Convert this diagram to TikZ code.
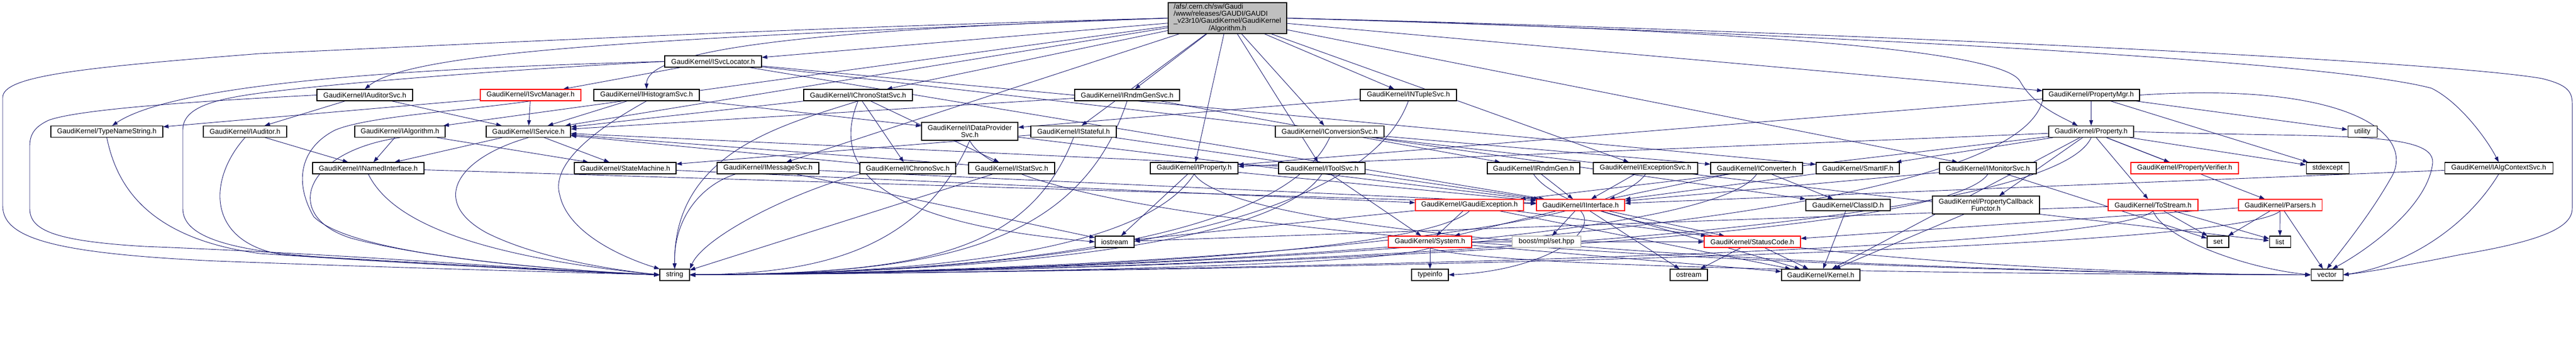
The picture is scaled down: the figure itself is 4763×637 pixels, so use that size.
\documentclass[tikz,border=0pt]{standalone}
\usepackage{fontspec}
\setmainfont{Liberation Sans}
\usetikzlibrary{arrows.meta}
\definecolor{eblue}{HTML}{191970}
\definecolor{mgray}{HTML}{BFBFBF}
\pgfdeclarelayer{bg}
\pgfsetlayers{bg,main}
\tikzset{
  box/.style={draw=black, line width=1.1pt, fill=white, inner sep=0pt, minimum height=21pt, font=\fontsize{13}{12.5}\selectfont, align=center},
  rbox/.style={box, draw=red},
  gbox/.style={box, draw=mgray},
  dep/.style={draw=eblue, line width=0.9pt, -{Triangle[length=10pt,width=7pt]}},
}
\begin{document}
\begin{tikzpicture}[x=1pt,y=1pt]
\useasboundingbox (0,0) rectangle (4763,-637);
% ---------- nodes ----------
\node[box, minimum width=219pt, minimum height=57pt, fill=mgray] (nmain) at (2269.5,-33.5) {\begin{tabular}{@{}l@{}}/afs/.cern.ch/sw/Gaudi\\/www/releases/GAUDI/GAUDI\\\_v23r10/GaudiKernel/GaudiKernel\\\multicolumn{1}{@{}c@{}}{/Algorithm.h}\end{tabular}};
\node[box, minimum width=179pt] (svcloc) at (1318.5,-113.5) {GaudiKernel/ISvcLocator.h};
\node[box, minimum width=177pt] (auditorsvc) at (674.5,-175.5) {GaudiKernel/IAuditorSvc.h};
\node[rbox, minimum width=186pt] (svcmgr) at (981,-175.5) {GaudiKernel/ISvcManager.h};
\node[box, minimum width=195pt] (histsvc) at (1195.5,-175.5) {GaudiKernel/IHistogramSvc.h};
\node[box, minimum width=201pt] (chronostat) at (1586.5,-175.5) {GaudiKernel/IChronoStatSvc.h};
\node[box, minimum width=194pt] (rndmgensvc) at (2084,-175.5) {GaudiKernel/IRndmGenSvc.h};
\node[box, minimum width=178pt] (ntuplesvc) at (2604,-175.5) {GaudiKernel/INTupleSvc.h};
\node[box, minimum width=179pt] (propmgr) at (3866.5,-175.5) {GaudiKernel/PropertyMgr.h};
\node[box, minimum width=207pt] (typename) at (197.5,-243) {GaudiKernel/TypeNameString.h};
\node[box, minimum width=154pt] (iauditor) at (453,-243) {GaudiKernel/IAuditor.h};
\node[box, minimum width=167pt] (ialgorithm) at (739.5,-243) {GaudiKernel/IAlgorithm.h};
\node[box, minimum width=156pt] (iservice) at (977,-243) {GaudiKernel/IService.h};
\node[box, minimum width=178pt, minimum height=33pt] (idataprov) at (1793,-242.5) {GaudiKernel/IDataProvider\\Svc.h};
\node[box, minimum width=158pt] (istateful) at (1985,-243) {GaudiKernel/IStateful.h};
\node[box, minimum width=201pt] (iconvsvc) at (2458.5,-243) {GaudiKernel/IConversionSvc.h};
\node[box, minimum width=157pt] (property) at (3866.5,-243) {GaudiKernel/Property.h};
\node[box, minimum width=54pt] (utility) at (4368,-243) {utility};
\node[box, minimum width=206pt] (inamed) at (681,-310.5) {GaudiKernel/INamedInterface.h};
\node[box, minimum width=188pt] (statemachine) at (1156,-310.5) {GaudiKernel/StateMachine.h};
\node[box, minimum width=188pt] (imsgsvc) at (1420,-310.5) {GaudiKernel/IMessageSvc.h};
\node[box, minimum width=177pt] (ichronosvc) at (1678.5,-310.5) {GaudiKernel/IChronoSvc.h};
\node[box, minimum width=159pt] (istatsvc) at (1870.5,-310.5) {GaudiKernel/IStatSvc.h};
\node[box, minimum width=162pt] (iproperty) at (2208,-310.5) {GaudiKernel/IProperty.h};
\node[box, minimum width=160pt] (itoolsvc) at (2444,-310.5) {GaudiKernel/IToolSvc.h};
\node[box, minimum width=171pt] (irndmgen) at (2835.5,-310.5) {GaudiKernel/IRndmGen.h};
\node[box, minimum width=193pt] (iexcsvc) at (3042.5,-310.5) {GaudiKernel/IExceptionSvc.h};
\node[box, minimum width=170pt] (iconverter) at (3248,-310.5) {GaudiKernel/IConverter.h};
\node[box, minimum width=154pt] (smartif) at (3435,-310.5) {GaudiKernel/SmartIF.h};
\node[box, minimum width=179pt] (imonsvc) at (3675.5,-310.5) {GaudiKernel/IMonitorSvc.h};
\node[rbox, minimum width=199pt] (propverif) at (4039.5,-310.5) {GaudiKernel/PropertyVerifier.h};
\node[box, minimum width=79pt] (stdexcept) at (4303.5,-310.5) {stdexcept};
\node[box, minimum width=200pt] (ialgctx) at (4620,-310.5) {GaudiKernel/IAlgContextSvc.h};
\node[rbox, minimum width=200pt] (gaudiexc) at (2717,-378.5) {GaudiKernel/GaudiException.h};
\node[rbox, minimum width=163pt] (iinterface) at (2922.5,-378.5) {GaudiKernel/IInterface.h};
\node[box, minimum width=156pt] (classid) at (3417,-378.5) {GaudiKernel/ClassID.h};
\node[box, minimum width=198pt, minimum height=33pt] (propcb) at (3672,-378.5) {GaudiKernel/PropertyCallback\\Functor.h};
\node[rbox, minimum width=166pt] (tostream) at (3981,-378.5) {GaudiKernel/ToStream.h};
\node[rbox, minimum width=154pt] (parsers) at (4216,-378.5) {GaudiKernel/Parsers.h};
\node[box, minimum width=72pt] (iostream) at (2061,-446.5) {iostream};
\node[rbox, minimum width=154pt] (nsystem) at (2644,-446.5) {GaudiKernel/System.h};
\node[gbox, minimum width=127pt] (boost) at (2859.5,-446.5) {boost/mpl/set.hpp};
\node[rbox, minimum width=178pt] (statuscode) at (3240,-446.5) {GaudiKernel/StatusCode.h};
\node[box, minimum width=40pt] (nset) at (4101,-446.5) {set};
\node[box, minimum width=39pt] (nlist) at (4215.5,-446.5) {list};
\node[box, minimum width=55pt] (nstring) at (1247.5,-507.5) {string};
\node[box, minimum width=68pt] (typeinfo) at (2644,-507.5) {typeinfo};
\node[box, minimum width=69pt] (ostream) at (3122.5,-507.5) {ostream};
\node[box, minimum width=145pt] (kernel) at (3366.5,-507.5) {GaudiKernel/Kernel.h};
\node[box, minimum width=59pt] (nvector) at (4302.5,-507.5) {vector};
% ---------- edges ----------
\begin{pgfonlayer}{bg}
\fill[white] (0,0) rectangle (4763,-637);
% main
\draw[dep] (nmain) -- (svcloc);
\draw[dep] (nmain.west) .. controls (1200,-70) and (760,-95) .. (auditorsvc.north);
\draw[dep] (nmain) -- (ialgorithm);
\draw[dep] (nmain) -- (iservice);
\draw[dep] (nmain.west) .. controls (1500,-55) and (1195,-90) .. (histsvc.north);
\draw[dep] (nmain) -- (chronostat);
\draw[dep] (nmain) -- (rndmgensvc);
\draw[dep] (nmain) -- (ntuplesvc);
\draw[dep] (nmain) -- (propmgr);
\draw[dep] (nmain) -- (istateful);
\draw[dep] (nmain) -- (iconvsvc);
\draw[dep] (nmain) -- (imsgsvc);
\draw[dep] (nmain) -- (iproperty);
\draw[dep] (nmain) -- (itoolsvc);
\draw[dep] (nmain) -- (iexcsvc);
\draw[dep] (nmain) -- (imonsvc);
\draw[dep] (nmain.east) .. controls (3200,-55) and (3700,-90) .. (3735,-150) .. controls (3760,-195) and (3810,-215) .. ([xshift=-25pt]property.north);
\draw[dep] (nmain.east) .. controls (3300,-60) and (4300,-110) .. (4496,-163) .. controls (4550,-190) and (4600,-260) .. (ialgctx.north);
\draw[dep] (nmain.west) .. controls (1500,-50) and (900,-80) .. (480,-99) .. controls (150,-125) and (5,-140) .. (5,-180) -- (5,-380) .. controls (5,-440) and (100,-468) .. (400,-482) .. controls (800,-497) and (1100,-504) .. (nstring.west);
\draw[dep] (nmain.east) .. controls (3300,-55) and (4500,-110) .. (4700,-145) .. controls (4740,-155) and (4756,-165) .. (4756,-190) -- (4756,-385) .. controls (4756,-420) and (4700,-445) .. (4550,-470) .. controls (4450,-490) and (4380,-502) .. (nvector.east);
% svcloc
\draw[dep] (svcloc) -- (svcmgr);
\draw[dep] (svcloc.west) .. controls (800,-125) and (330,-150) .. ([xshift=10pt]typename.north);
\draw[dep] (svcloc.west) .. controls (1000,-125) and (650,-150) .. (480,-172) .. controls (390,-184) and (338,-200) .. (338,-240) -- (338,-385) .. controls (338,-430) and (400,-462) .. (600,-475) .. controls (900,-492) and (1100,-503) .. (nstring.west);
\draw[dep] (svcloc) -- (iinterface);
\draw[dep] (svcloc) -- (smartif);
\draw[dep] (svcloc) -- (nlist);
% svcmgr
\draw[dep] (svcmgr) -- (iservice);
\draw[dep] (svcmgr) -- (typename);
\draw[dep] (svcmgr.south) .. controls (850,-205) and (680,-215) .. (620,-240) .. controls (560,-270) and (540,-330) .. (580,-400) .. controls (650,-470) and (1000,-497) .. (nstring.west);
% auditorsvc
\draw[dep] (auditorsvc) -- (iauditor);
\draw[dep] (auditorsvc) -- (iservice);
\draw[dep] (auditorsvc.west) .. controls (400,-185) and (150,-200) .. (90,-222) .. controls (62,-235) and (55,-250) .. (55,-270) -- (55,-385) .. controls (55,-425) and (100,-445) .. (267,-455) .. controls (700,-472) and (1000,-500) .. (nstring.west);
% iauditor, typename
\draw[dep] (iauditor) -- (inamed);
\draw[dep] (iauditor.south) .. controls (385,-330) and (380,-445) .. (520,-470) .. controls (800,-490) and (1100,-503) .. (nstring.west);
\draw[dep] (typename.south) .. controls (215,-340) and (270,-440) .. (480,-468) .. controls (800,-490) and (1100,-503) .. (nstring.west);
% ialgorithm
\draw[dep] (ialgorithm) -- (inamed);
\draw[dep] (ialgorithm) -- (statemachine);
\draw[dep] (ialgorithm.south) .. controls (560,-280) and (520,-400) .. (650,-440) .. controls (800,-480) and (1050,-500) .. (nstring.west);
% iservice
\draw[dep] (iservice) -- (inamed);
\draw[dep] (iservice) -- (statemachine);
\draw[dep] (iservice.south) .. controls (850,-290) and (790,-370) .. (900,-430) .. controls (1000,-480) and (1150,-500) .. (nstring.west);
% inamed, statemachine
\draw[dep] (inamed) -- (iinterface);
\draw[dep] (inamed.south) .. controls (720,-400) and (850,-470) .. (nstring.west);
\draw[dep] (statemachine) -- (gaudiexc);
% histsvc
\draw[dep] (histsvc) -- (iservice);
\draw[dep] (histsvc) -- (idataprov);
\draw[dep] (histsvc.south) .. controls (1080,-250) and (1020,-310) .. (1035,-360) .. controls (1050,-430) and (1150,-475) .. (nstring.north west);
% chronostat
\draw[dep] (chronostat) -- (ichronosvc);
\draw[dep] (chronostat) -- (istatsvc);
\draw[dep] (chronostat) -- (iservice);
\draw[dep] (chronostat.south) .. controls (1450,-230) and (1245,-280) .. (nstring.north);
\draw[dep] (chronostat.south) .. controls (1540,-300) and (1600,-410) .. (iostream.west);
% ichronosvc, istatsvc
\draw[dep] (ichronosvc) -- (iservice);
\draw[dep] (ichronosvc.south west) .. controls (1450,-360) and (1300,-440) .. (nstring.north east);
\draw[dep] (istatsvc) -- (iservice);
\draw[dep] (istatsvc) -- (nstring);
% rndmgensvc, irndmgen
\draw[dep] (rndmgensvc) -- (iservice);
\draw[dep] (rndmgensvc) -- (irndmgen);
\draw[dep] (rndmgensvc.south) .. controls (1990,-470) and (1700,-505) .. (nstring.east);
\draw[dep] (irndmgen) -- (iinterface);
\draw[dep] (irndmgen.south) .. controls (2935,-470) and (3900,-507) .. (nvector.west);
% ntuplesvc, idataprov
\draw[dep] (ntuplesvc) -- (idataprov);
\draw[dep] (ntuplesvc.south) .. controls (2500,-470) and (1700,-505) .. (nstring.east);
\draw[dep] (idataprov) -- (iinterface);
\draw[dep] (idataprov.south) .. controls (1700,-470) and (1500,-505) .. (nstring.east);
\draw[dep] (idataprov.south) .. controls (1900,-470) and (3900,-507) .. (nvector.west);
% istateful
\draw[dep] (istateful) -- (statemachine);
\draw[dep] (istateful) -- (iinterface);
\draw[dep] (istateful.south) .. controls (1900,-470) and (1700,-505) .. (nstring.east);
% iconvsvc, iconverter
\draw[dep] (iconvsvc) -- (iconverter);
\draw[dep] (iconvsvc) -- (classid);
\draw[dep] (iconvsvc.south) .. controls (2360,-470) and (1700,-505) .. (nstring.east);
\draw[dep] (iconverter) -- (iinterface);
\draw[dep] (iconverter) -- (classid);
\draw[dep] (iconverter.south) .. controls (3150,-470) and (1700,-505) .. (nstring.east);
% propmgr
\draw[dep] (propmgr) -- (property);
\draw[dep] (propmgr) -- (iproperty);
\draw[dep] (propmgr) -- (stdexcept);
\draw[dep] (propmgr) -- (utility);
\draw[dep] (propmgr.east) .. controls (4350,-150) and (4470,-250) .. (4420,-330) .. controls (4380,-400) and (4330,-460) .. (nvector.north);
\draw[dep] (propmgr.south west) .. controls (3700,-470) and (1700,-505) .. (nstring.east);
% property
\draw[dep] (property) -- (propverif);
\draw[dep] (property) -- (tostream);
\draw[dep] (property) -- (parsers);
\draw[dep] (property) -- (stdexcept);
\draw[dep] (property) -- (propcb);
\draw[dep] (property) -- (iproperty);
\draw[dep] (property) -- (kernel);
\draw[dep] (property) -- (gaudiexc);
\draw[dep] (property) -- (smartif);
\draw[dep] (property.south) .. controls (3770,-470) and (1700,-505) .. (nstring.east);
\draw[dep] (property.east) .. controls (4300,-255) and (4500,-240) .. (4498,-300) .. controls (4490,-380) and (4380,-460) .. ([xshift=10pt]nvector.north);
% imsgsvc
\draw[dep] (imsgsvc) -- (iinterface);
\draw[dep] ([xshift=-60pt]imsgsvc.south) .. controls (1300,-340) and (1245,-400) .. (nstring.north);
\draw[dep] (imsgsvc) -- (iostream);
% iproperty
\draw[dep] (iproperty) -- (iinterface);
\draw[dep] (iproperty) -- (iostream);
\draw[dep] (iproperty.south) .. controls (2110,-470) and (1700,-505) .. (nstring.east);
\draw[dep] (iproperty.south) .. controls (2310,-470) and (3900,-507) .. (nvector.west);
% itoolsvc
\draw[dep] (itoolsvc) -- (iservice);
\draw[dep] (itoolsvc) -- (nsystem);
\draw[dep] (itoolsvc.south) .. controls (2345,-470) and (1700,-505) .. (nstring.east);
% iexcsvc, smartif, imonsvc, ialgctx
\draw[dep] (iexcsvc) -- (iinterface);
\draw[dep] (iexcsvc.south) .. controls (2940,-470) and (1700,-505) .. (nstring.east);
\draw[dep] (smartif) -- (iinterface);
\draw[dep] (imonsvc) -- (iinterface);
\draw[dep] (imonsvc) -- (nset);
\draw[dep] (imonsvc.south) .. controls (3575,-470) and (1700,-505) .. (nstring.east);
\draw[dep] (ialgctx) -- (iinterface);
\draw[dep] (ialgctx.south) .. controls (4560,-420) and (4450,-490) .. (nvector.east);
% gaudiexc
\draw[dep] (gaudiexc) -- (nsystem);
\draw[dep] (gaudiexc) -- (statuscode);
\draw[dep] (gaudiexc) -- (kernel);
\draw[dep] (gaudiexc) -- (iostream);
\draw[dep] (gaudiexc.south) .. controls (2620,-480) and (1700,-505) .. (nstring.east);
% iinterface
\draw[dep] (iinterface) -- (nsystem);
\draw[dep] (iinterface) -- (statuscode);
\draw[dep] (iinterface) -- (boost);
\draw[dep] (iinterface) -- (ostream);
\draw[dep] (iinterface) -- (kernel);
\draw[dep] (iinterface.south) .. controls (2960,-430) and (2850,-500) .. (typeinfo.east);
% classid, propcb
\draw[dep] (classid) -- (kernel);
\draw[dep] (propcb) -- (kernel);
% tostream
\draw[dep] (tostream) -- (nset);
\draw[dep] (tostream) -- (nlist);
\draw[dep] (tostream.south) .. controls (4000,-440) and (4150,-495) .. (nvector.west);
\draw[dep] (tostream) -- (iostream);
\draw[dep] (tostream.south) .. controls (3880,-480) and (1700,-505) .. (nstring.east);
% parsers
\draw[dep] (parsers) -- (nset);
\draw[dep] (parsers) -- (nlist);
\draw[dep] (parsers) -- (nvector);
\draw[dep] (parsers) -- (statuscode);
\draw[dep] (parsers.south) .. controls (4115,-480) and (1700,-505) .. (nstring.east);
% system
\draw[dep] (nsystem) -- (typeinfo);
\draw[dep] (nsystem) -- (statuscode);
\draw[dep] (nsystem) -- (kernel);
\draw[dep] (nsystem.south) .. controls (2545,-495) and (1700,-505) .. (nstring.east);
\draw[dep] (nsystem.south) .. controls (2750,-500) and (3900,-507) .. (nvector.west);
% statuscode
\draw[dep] (statuscode) -- (ostream);
\draw[dep] (statuscode) -- (kernel);
\end{pgfonlayer}
\end{tikzpicture}
\end{document}
